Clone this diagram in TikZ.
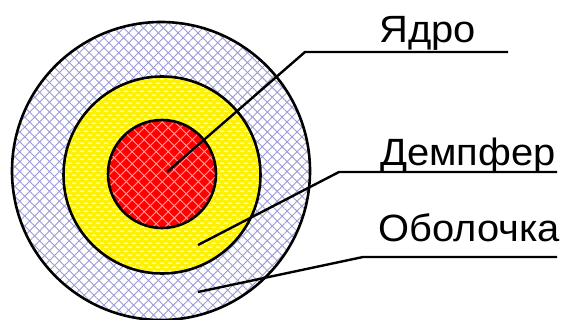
\documentclass[tikz,border=0pt]{standalone}
\usepackage{fontspec}
\setmainfont{Liberation Sans}
\usetikzlibrary{patterns,patterns.meta}
\pgfdeclarepatternformonly{yeldash}{\pgfqpoint{-1pt}{-1pt}}{\pgfqpoint{9pt}{9pt}}{\pgfqpoint{8pt}{8pt}}{%
  \pgfpathrectangle{\pgfqpoint{0pt}{0pt}}{\pgfqpoint{4pt}{1.3pt}}%
  \pgfpathrectangle{\pgfqpoint{4pt}{4pt}}{\pgfqpoint{4pt}{1.3pt}}%
  \pgfusepath{fill}}
\definecolor{hatchblue}{RGB}{155,155,215}
\definecolor{hatchred}{RGB}{255,160,160}
\tikzset{
  ring/.style={circle, inner sep=0pt, outer sep=0pt, draw=black, line width=2.6pt},
  shellring/.style={ring, minimum size=298pt,
    preaction={fill=white},
    preaction={pattern={Lines[angle=45,distance=7pt,line width=0.9pt]}, pattern color=hatchblue},
    preaction={pattern={Lines[angle=-45,distance=7pt,line width=0.9pt]}, pattern color=hatchblue}},
  damperring/.style={ring, minimum size=197pt,
    preaction={fill=yellow},
    preaction={pattern=yeldash, pattern color=white}},
  corering/.style={ring, minimum size=108pt,
    preaction={fill=red},
    preaction={pattern={Lines[angle=45,distance=8.5pt,line width=0.9pt]}, pattern color=hatchred},
    preaction={pattern={Lines[angle=-45,distance=8.5pt,line width=0.9pt]}, pattern color=hatchred}},
  ptr/.style={draw=black, line width=2.4pt},
  lbl/.style={anchor=base west, inner sep=0pt, xscale=1.05, font=\fontsize{38}{41}\selectfont}
}
\begin{document}
\begin{tikzpicture}[x=1pt,y=-1pt]
  \useasboundingbox (0,0) rectangle (562,320);
  \node[shellring] (shell) at (161,171) {};
  \node[damperring] (damper) at (162,175) {};
  \node[corering] (core) at (162,174) {};
  \coordinate (coreP) at (167,172);
  \coordinate (coreK) at (305,52);
  \coordinate (coreE) at (508,52);
  \coordinate (dampP) at (198,245);
  \coordinate (dampK) at (339,172);
  \coordinate (dampE) at (557,172);
  \coordinate (shellP) at (198,292);
  \coordinate (shellK) at (363,257);
  \coordinate (shellE) at (557,257);
  \draw[ptr] (coreP) -- (coreK) -- (coreE);
  \draw[ptr] (dampP) -- (dampK) -- (dampE);
  \draw[ptr] (shellP) -- (shellK) -- (shellE);
  \node[lbl] (tcore) at (379,43) {Ядро};
  \node[lbl] (tdamp) at (380,166) {Демпфер};
  \node[lbl] (tshell) at (378,242) {Оболочка};
\end{tikzpicture}
\end{document}
